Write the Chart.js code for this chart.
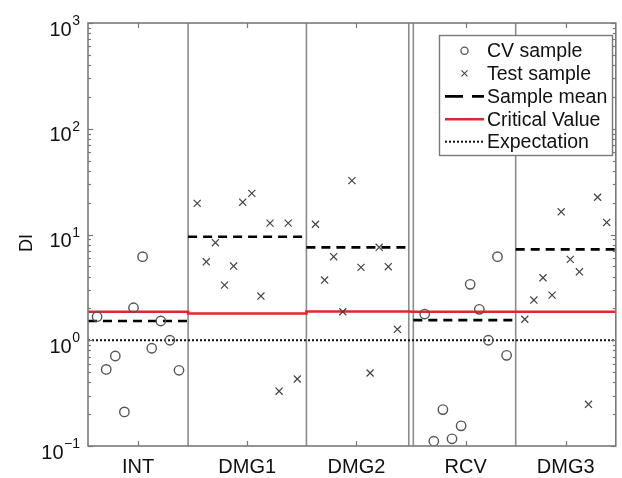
<!DOCTYPE html>
<html>
<head>
<meta charset="utf-8">
<script src="https://cdn.jsdelivr.net/npm/chart.js@4.4.1/dist/chart.umd.min.js"></script>
<style>
html,body{margin:0;padding:0;background:#fff;}
#wrap{width:622px;height:478px;}
</style>
</head>
<body>
<div id="wrap"><canvas id="c" width="622" height="478"></canvas></div>
<script>
// ---- data ----
const categories = ['INT', 'DMG1', 'DMG2', 'RCV', 'DMG3'];
const categoryPos = [5.5, 17.5, 29.5, 41.5, 52.5];
const groupLeft = [0, 11, 24, 35.75, 47];
const groupRight = [11, 24, 35.25, 47, 58];
const separators = [11, 24, 35.25, 35.75, 47];
const yTicks = [0.1, 1, 10, 100, 1000];
const yTickExp = ['\u22121', '0', '1', '2', '3'];

const intStart = 1;
const intCV = [1.67, 0.53, 0.71, 0.21, 2.03, 6.17, 0.84, 1.52, 1.0, 0.52];
const dmg1Start = 12;
const dmg1Test = [19.7, 5.52, 8.36, 3.32, 5.03, 20.2, 24.5, 2.62, 12.8, 0.33, 12.8, 0.43];
const dmg2Start = 25;
const dmg2Test = [12.5, 3.71, 6.17, 1.86, 32.3, 4.89, 0.49, 7.57, 4.96, 1.27];
const rcvStart = 37;
const rcvCV = [1.77, 0.111, 0.221, 0.117, 0.155, 3.38, 1.96, 1.0, 6.17, 0.72];
const dmg3Start = 48;
const dmg3Test = [1.58, 2.40, 3.90, 2.67, 16.4, 5.82, 4.44, 0.248, 22.5, 13.0];

const sampleMean = [1.52, 9.53, 7.56, 1.55, 7.24];
const criticalValue = [1.86, 1.79, 1.87, 1.86, 1.86];
const expectation = 1.0;
const xMin = 0, xMax = 58;

// ---- build datasets ----
const toPts = (start, arr) => arr.map((v, i) => ({x: start + i, y: v}));
const cvPts = toPts(intStart, intCV).concat(toPts(rcvStart, rcvCV));
const testPts = toPts(dmg1Start, dmg1Test).concat(toPts(dmg2Start, dmg2Test), toPts(dmg3Start, dmg3Test));

const critPts = [];
criticalValue.forEach((v, i) => { critPts.push({x: groupLeft[i], y: v}); critPts.push({x: groupRight[i], y: v}); });

const CV_COLOR = '#555555', TEST_COLOR = '#444444', RED = '#e3262c', SEP = '#8c8c8c';

const datasets = [];
datasets.push({label: 'CV sample', data: cvPts, showLine: false, pointStyle: 'circle', pointRadius: 4.7,
  borderColor: CV_COLOR, backgroundColor: 'rgba(0,0,0,0)', pointBorderWidth: 1.4});
datasets.push({label: 'Test sample', data: testPts, showLine: false, pointStyle: 'crossRot', pointRadius: 5,
  borderColor: TEST_COLOR, backgroundColor: TEST_COLOR, pointBorderWidth: 1.2});
sampleMean.forEach((m, i) => datasets.push({label: 'Sample mean', type: 'line',
  data: [{x: groupLeft[i], y: m}, {x: groupRight[i], y: m}], borderColor: '#000', borderWidth: 2.6,
  borderDash: [9, 6], pointRadius: 0, fill: false}));
datasets.push({label: 'Critical Value', type: 'line', data: critPts, borderColor: RED, borderWidth: 2.6,
  pointRadius: 0, fill: false, tension: 0});
datasets.push({label: 'Expectation', type: 'line', data: [{x: xMin, y: expectation}, {x: xMax, y: expectation}],
  borderColor: '#111', borderWidth: 2, borderDash: [2, 2], pointRadius: 0, fill: false});
separators.forEach(s => datasets.push({label: 'sep', type: 'line', data: [{x: s, y: yTicks[0]}, {x: s, y: yTicks[yTicks.length - 1]}],
  borderColor: SEP, borderWidth: 1.6, pointRadius: 0, fill: false}));

const FONT = '"Liberation Sans", Arial, sans-serif';

const decor = {
  id: 'decor',
  beforeDraw(chart) {
    const ctx = chart.ctx;
    ctx.save(); ctx.fillStyle = '#fff'; ctx.fillRect(0, 0, chart.width, chart.height); ctx.restore();
  },
  afterDatasetsDraw(chart) {
    const ctx = chart.ctx, a = chart.chartArea;
    const xs = chart.scales.x, ys = chart.scales.y;
    ctx.save();
    // box
    ctx.strokeStyle = '#7a7a7a'; ctx.lineWidth = 1.6;
    ctx.strokeRect(a.left, a.top, a.right - a.left, a.bottom - a.top);
    // x ticks
    ctx.strokeStyle = '#777'; ctx.lineWidth = 1.2;
    categoryPos.forEach(p => {
      const px = Math.round(xs.getPixelForValue(p)) + 0.5;
      ctx.beginPath(); ctx.moveTo(px, a.bottom); ctx.lineTo(px, a.bottom - 5); ctx.stroke();
      ctx.beginPath(); ctx.moveTo(px, a.top); ctx.lineTo(px, a.top + 5); ctx.stroke();
    });
    // y ticks (major + minor)
    for (let d = 0; d < yTicks.length; d++) {
      const base = yTicks[d];
      const py = Math.round(ys.getPixelForValue(base)) + 0.5;
      ctx.beginPath(); ctx.moveTo(a.left, py); ctx.lineTo(a.left + 5, py); ctx.stroke();
      ctx.beginPath(); ctx.moveTo(a.right, py); ctx.lineTo(a.right - 5, py); ctx.stroke();
      if (d < yTicks.length - 1) {
        for (let k = 2; k <= 9; k++) {
          const my = Math.round(ys.getPixelForValue(base * k)) + 0.5;
          ctx.beginPath(); ctx.moveTo(a.left, my); ctx.lineTo(a.left + 3, my); ctx.stroke();
          ctx.beginPath(); ctx.moveTo(a.right, my); ctx.lineTo(a.right - 3, my); ctx.stroke();
        }
      }
    }
    // y tick labels 10^n
    ctx.fillStyle = '#111';
    yTicks.forEach((v, i) => {
      const py = ys.getPixelForValue(v);
      ctx.font = '14px ' + FONT;
      const ew = ctx.measureText(yTickExp[i]).width;
      const right = 80;
      ctx.textBaseline = 'alphabetic';
      ctx.textAlign = 'left';
      ctx.fillText(yTickExp[i], right - ew, py + 2);
      ctx.font = '20px ' + FONT;
      ctx.textAlign = 'right';
      ctx.fillText('10', right - ew - 0.5, py + 12.5);
    });
    // x labels
    ctx.font = '20px ' + FONT; ctx.textAlign = 'center'; ctx.textBaseline = 'alphabetic';
    categories.forEach((c, i) => ctx.fillText(c, xs.getPixelForValue(categoryPos[i]), 473));
    // y title
    ctx.save();
    ctx.translate(27, 243); ctx.rotate(-Math.PI / 2);
    ctx.font = '18px ' + FONT; ctx.textAlign = 'center'; ctx.textBaseline = 'middle';
    ctx.fillText('DI', 0, 0);
    ctx.restore();
    // legend
    const L = 439.5, T = 35.5, R = 612.5, B = 155.5;
    ctx.fillStyle = '#fff'; ctx.fillRect(L, T, R - L, B - T);
    ctx.strokeStyle = '#7a7a7a'; ctx.lineWidth = 1.4; ctx.strokeRect(L, T, R - L, B - T);
    const rows = [50.7, 73.3, 96.4, 119.2, 141.7];
    const labels = ['CV sample', 'Test sample', 'Sample mean', 'Critical Value', 'Expectation'];
    const s0 = 445, s1 = 484, sc = 464.5;
    // circle
    ctx.strokeStyle = CV_COLOR; ctx.lineWidth = 1.3;
    ctx.beginPath(); ctx.arc(sc, rows[0], 3.6, 0, Math.PI * 2); ctx.stroke();
    // cross
    ctx.strokeStyle = TEST_COLOR; ctx.lineWidth = 1.1;
    ctx.beginPath(); ctx.moveTo(sc - 3, rows[1] - 3); ctx.lineTo(sc + 3, rows[1] + 3);
    ctx.moveTo(sc + 3, rows[1] - 3); ctx.lineTo(sc - 3, rows[1] + 3); ctx.stroke();
    // dashed
    ctx.strokeStyle = '#000'; ctx.lineWidth = 2.6; ctx.setLineDash([18, 9]);
    ctx.beginPath(); ctx.moveTo(s0, rows[2]); ctx.lineTo(s1, rows[2]); ctx.stroke();
    ctx.setLineDash([]);
    ctx.strokeStyle = RED; ctx.lineWidth = 2.6;
    ctx.beginPath(); ctx.moveTo(s0, rows[3]); ctx.lineTo(s1, rows[3]); ctx.stroke();
    ctx.strokeStyle = '#111'; ctx.lineWidth = 2; ctx.setLineDash([2, 2]);
    ctx.beginPath(); ctx.moveTo(s0, rows[4]); ctx.lineTo(s1, rows[4]); ctx.stroke();
    ctx.setLineDash([]);
    ctx.fillStyle = '#111'; ctx.font = '19.5px ' + FONT; ctx.textAlign = 'left'; ctx.textBaseline = 'middle';
    labels.forEach((t, i) => ctx.fillText(t, 487, rows[i] + 1));
    ctx.restore();
  }
};

new Chart(document.getElementById('c'), {
  type: 'scatter',
  data: {datasets},
  options: {
    responsive: false,
    animation: false,
    devicePixelRatio: 1,
    layout: {padding: {left: 88, top: 23, right: 1, bottom: 32}},
    plugins: {legend: {display: false}, tooltip: {enabled: false}},
    scales: {
      x: {type: 'linear', min: xMin, max: xMax, display: false},
      y: {type: 'logarithmic', min: yTicks[0], max: yTicks[yTicks.length - 1], display: false}
    }
  },
  plugins: [decor]
});
</script>
</body>
</html>
